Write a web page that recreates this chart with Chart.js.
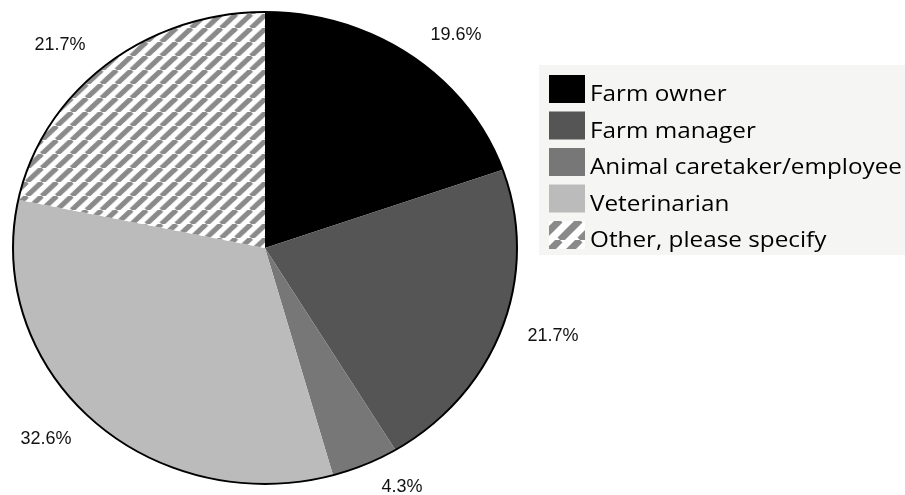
<!DOCTYPE html>
<html>
<head>
<meta charset="utf-8">
<script src="https://cdn.jsdelivr.net/npm/chart.js@4.4.1/dist/chart.umd.min.js"></script>
<style>
    html, body { margin: 0; padding: 0; background: #fff; }
    .chart-container { position: relative; width: 905px; height: 495px; }
</style>
</head>
<body>
<div class="chart-container"><canvas id="roleChart"></canvas></div>
<script>
const roleLabels = ['Farm owner', 'Farm manager', 'Animal caretaker/employee', 'Veterinarian', 'Other, please specify'];
const rolePercents = [19.6, 21.7, 4.3, 32.6, 21.7];
const roleColors = ['#000000', '#555555', '#777777', '#bbbbbb', null];

// pie is drawn a bit wider than tall
const stretchX = 252 / 236;

function makeStripes(size, width) {
    const c = document.createElement('canvas');
    c.width = size;
    c.height = size;
    const g = c.getContext('2d');
    g.fillStyle = '#ffffff';
    g.fillRect(0, 0, size, size);
    g.strokeStyle = '#8a8a8a';
    g.lineWidth = width;
    for (let k = -1; k <= 1; k++) {
        g.beginPath();
        g.moveTo(k * size, size);
        g.lineTo(k * size + size, 0);
        g.stroke();
    }
    return g.createPattern(c, 'repeat');
}

const sliceStripes = makeStripes(14, 5);
const legendStripes = makeStripes(20, 7);
const sliceFills = roleColors.map(c => c || sliceStripes);

const ellipsePie = {
    id: 'ellipsePie',
    beforeDatasetsDraw(chart) {
        const arc = chart.getDatasetMeta(0).data[0];
        const ctx = chart.ctx;
        ctx.save();
        ctx.translate(arc.x, arc.y);
        ctx.scale(stretchX, 1);
        ctx.translate(-arc.x, -arc.y);
    },
    afterDatasetsDraw(chart) {
        const ctx = chart.ctx;
        ctx.restore();

        const arcs = chart.getDatasetMeta(0).data;
        const cx = arcs[0].x, cy = arcs[0].y, r = arcs[0].outerRadius;

        // outline round the outside only
        ctx.save();
        ctx.beginPath();
        ctx.ellipse(cx, cy, r * stretchX, r, 0, 0, Math.PI * 2);
        ctx.lineWidth = 2;
        ctx.strokeStyle = '#000';
        ctx.stroke();
        ctx.restore();

        // percent labels outside each slice
        ctx.save();
        ctx.font = '18px "Liberation Sans", Arial, sans-serif';
        ctx.fillStyle = '#111';
        ctx.textAlign = 'center';
        ctx.textBaseline = 'middle';
        arcs.forEach((a, i) => {
            const mid = (a.startAngle + a.endAngle) / 2;
            const dx = Math.cos(mid), dy = Math.sin(mid);
            const text = rolePercents[i].toFixed(1) + '%';
            const halfW = ctx.measureText(text).width / 2;
            const rimX = cx + r * stretchX * dx;
            const rimY = cy + r * dy;
            const x = rimX + Math.sign(dx) * (halfW + 26 * Math.sqrt(Math.abs(dx)));
            const y = rimY + dy * 25;
            ctx.fillText(text, x, y);
        });
        ctx.restore();
    }
};

const sideLegend = {
    id: 'sideLegend',
    afterDraw(chart) {
        const ctx = chart.ctx;
        ctx.save();
        ctx.fillStyle = '#f5f5f4';
        ctx.fillRect(539, 65, 366, 190);
        ctx.font = '21px "Open Sans", sans-serif';
        ctx.textBaseline = 'alphabetic';
        // the legend text runs wide, so squeeze it out to the right edge
        const widest = Math.max(...roleLabels.map(l => ctx.measureText(l).width));
        const textScale = 312 / widest;
        roleLabels.forEach((label, i) => {
            const top = 75 + i * 36.5;
            ctx.fillStyle = roleColors[i] || legendStripes;
            ctx.fillRect(549, top, 36, 28);
            ctx.save();
            ctx.translate(590, top + 26);
            ctx.scale(textScale, 1);
            ctx.fillStyle = '#000';
            ctx.fillText(label, 0, 0);
            ctx.restore();
        });
        ctx.restore();
    }
};

const chart = new Chart(document.getElementById('roleChart'), {
    type: 'pie',
    data: {
        labels: roleLabels,
        datasets: [{
            data: rolePercents,
            backgroundColor: sliceFills,
            borderWidth: 0
        }]
    },
    options: {
        responsive: true,
        maintainAspectRatio: false,
        animation: false,
        layout: { padding: { top: 12, bottom: 11, left: 13, right: 388 } },
        plugins: {
            legend: { display: false },
            tooltip: { enabled: false }
        }
    },
    plugins: [ellipsePie, sideLegend]
});
</script>
</body>
</html>
